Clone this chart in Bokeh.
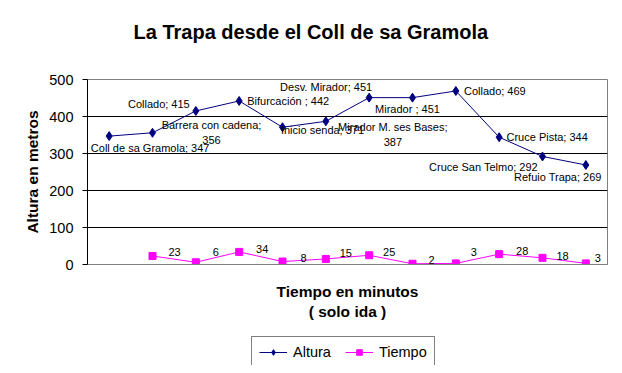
from bokeh.plotting import figure
from bokeh.layouts import column
from bokeh.models import (Range1d, ColumnDataSource, FixedTicker, Legend, LegendItem, Title)
from bokeh.core.properties import value
from bokeh.embed import file_html
from bokeh.resources import INLINE

# ---- data ----
puntos = ["Coll de sa Gramola", "Barrera con cadena", "Collado", "Bifurcación ",
          "Inicio senda", "Mirador M. ses Bases", "Desv. Mirador", "Mirador ",
          "Collado", "Cruce Pista", "Cruce San Telmo", "Refuio Trapa"]
altura = [347, 356, 415, 442, 371, 387, 451, 451, 469, 344, 292, 269]
tiempo = [23, 6, 34, 8, 15, 25, 2, 3, 28, 18, 3]   # minutes, from the 2nd point on
y_ticks = [0, 100, 200, 300, 400, 500]
grid_ticks = [100, 200, 300, 400]
series = ["Altura", "Tiempo"]

titulo = "La Trapa desde el Coll de  sa Gramola"
eje_y = "Altura en metros"
eje_x = "Tiempo en minutos\n( solo ida )"

# ---- label layout (pixel offsets, text separators) ----
alt_sep = ["; ", ";\n", "; ", "; ", "; ", ";\n", "; ", "; ", "; ", "; ", "; ", "; "]
alt_dx = [41, 59, -37, 49, 40, 67, -43, -5, 39, 48, -59, -28]
alt_dy = [12, 0, -7, 0, 3, 13, -11, 11, 0, 0, 11, 12]
tie_dx = [22, 20, 23, 21, 20, 20, 19, 18, 23, 20, 12]
tie_dy = [-4, -10, -3, -4, -6, -3, -4, -11, -3, -2, -5]

FONT = "Liberation Sans"
NAVY = "#000080"
MAGENTA = "#FF00FF"

n = len(puntos)
xs = [i + 0.5 for i in range(n)]
xs_t = xs[n - len(tiempo):]

src_a = ColumnDataSource(dict(
    x=xs, y=altura,
    lbl=[f"{p}{s}{v}" for p, s, v in zip(puntos, alt_sep, altura)],
    dx=alt_dx, dy=alt_dy))
src_t = ColumnDataSource(dict(
    x=xs_t, y=tiempo, lbl=[str(v) for v in tiempo], dx=tie_dx, dy=tie_dy))

W = 614
p = figure(width=W, height=330, output_backend="svg", toolbar_location=None,
           x_range=Range1d(0, n), y_range=Range1d(0, 500),
           min_border_left=87, min_border_right=7, min_border_top=79, min_border_bottom=66)
p.background_fill_color = "white"
p.border_fill_color = "white"
p.outline_line_color = "#808080"
p.outline_line_width = 1

p.xgrid.visible = False
p.ygrid.ticker = FixedTicker(ticks=grid_ticks)
p.ygrid.grid_line_color = "black"
p.ygrid.grid_line_width = 1

xa = p.xaxis[0]
xa.ticker = FixedTicker(ticks=[])
xa.axis_line_color = "#808080"
xa.major_tick_out = 0
xa.major_tick_in = 0
xa.minor_tick_line_color = None
xa.major_label_standoff = 0
xa.axis_label = eje_x
xa.axis_label_text_font = FONT
xa.axis_label_text_font_style = "bold"
xa.axis_label_text_font_size = "15.5px"
xa.axis_label_text_color = "black"
xa.axis_label_standoff = 18

ya = p.yaxis[0]
ya.ticker = FixedTicker(ticks=y_ticks)
ya.axis_line_color = "black"
ya.major_tick_line_color = "black"
ya.major_tick_out = 5
ya.major_tick_in = 0
ya.minor_tick_line_color = None
ya.major_label_text_font = FONT
ya.major_label_text_font_size = "14.5px"
ya.major_label_text_color = "black"
ya.major_label_standoff = 9
ya.axis_label = eje_y
ya.axis_label_text_font = FONT
ya.axis_label_text_font_style = "bold"
ya.axis_label_text_font_size = "15.5px"
ya.axis_label_text_color = "black"
ya.axis_label_standoff = 5

p.line("x", "y", source=src_a, line_color=NAVY, line_width=1)
p.scatter("x", "y", source=src_a, marker="diamond", size=9, fill_color=NAVY, line_color=NAVY)
p.line("x", "y", source=src_t, line_color=MAGENTA, line_width=1)
p.scatter("x", "y", source=src_t, marker="square", size=7, fill_color=MAGENTA, line_color=MAGENTA)

p.text("x", "y", text="lbl", x_offset="dx", y_offset="dy", source=src_a,
       text_font=value(FONT), text_font_size="11px", text_align="center",
       text_baseline="middle", text_color="black", text_line_height=1.25)
p.text("x", "y", text="lbl", x_offset="dx", y_offset="dy", source=src_t,
       text_font=value(FONT), text_font_size="11px", text_align="center",
       text_baseline="middle", text_color="black")

# the title box is centred in its panel; a trailing empty line lifts the text
p.title = Title(text=titulo + "\n", align="left", offset=46, standoff=26,
                vertical_align="top", text_font=FONT, text_font_style="bold",
                text_font_size="20px", text_color="black")

# ---- legend strip (own small figure; series drawn out of its view) ----
q = figure(width=W, height=35, output_backend="svg", toolbar_location=None,
           x_axis_location=None, y_axis_location=None,
           x_range=Range1d(0, n), y_range=Range1d(-2000, -1000),
           min_border_left=0, min_border_right=0, min_border_top=0, min_border_bottom=0)
q.grid.visible = False
q.outline_line_color = None
q.background_fill_color = "white"
q.border_fill_color = "white"
la = q.line("x", "y", source=src_a, line_color=NAVY, line_width=1)
sa = q.scatter("x", "y", source=src_a, marker="diamond", size=8, fill_color=NAVY, line_color=NAVY)
lt = q.line("x", "y", source=src_t, line_color=MAGENTA, line_width=1)
st = q.scatter("x", "y", source=src_t, marker="square", size=6, fill_color=MAGENTA, line_color=MAGENTA)

legend = Legend(items=[LegendItem(label=series[0], renderers=[la, sa]),
                       LegendItem(label=series[1], renderers=[lt, st])],
                location=(164, -3), orientation="horizontal",
                border_line_color="black", border_line_width=1,
                background_fill_color="white", background_fill_alpha=1,
                label_text_font=FONT, label_text_font_size="14.5px",
                label_text_color="black",
                glyph_width=28, glyph_height=14, label_standoff=6,
                spacing=14, padding=7, margin=0, label_height=16)
q.add_layout(legend, "center")

open("out.html", "w").write(file_html(column(p, q, spacing=0), INLINE))
